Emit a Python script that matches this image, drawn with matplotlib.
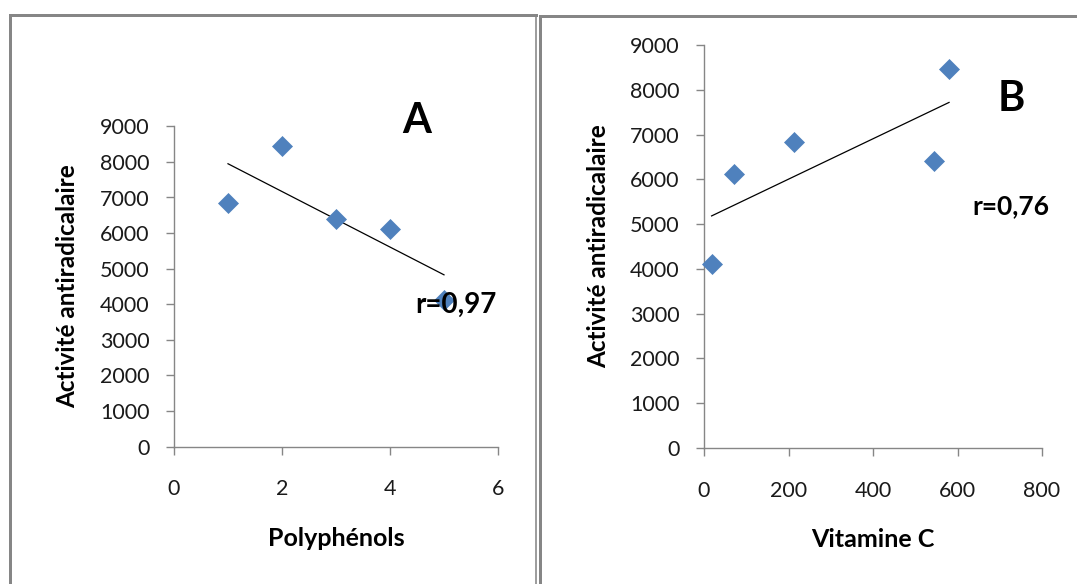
import numpy as np
import matplotlib
matplotlib.use('Agg')
import matplotlib.pyplot as plt
from matplotlib.lines import Line2D

# Values
polyphenols = [1, 2, 3, 4, 5]
activity_a = [6840, 8460, 6410, 6120, 4110]

vitamine_c = [18, 71, 212, 545, 580]
activity_b = [4110, 6120, 6840, 6410, 8460]

y_ticks = [0, 1000, 2000, 3000, 4000, 5000, 6000, 7000, 8000, 9000]
x_ticks_a = [0, 2, 4, 6]
x_ticks_b = [0, 200, 400, 600, 800]

r_a = 'r=0,97'
r_b = 'r=0,76'

W, H = 1077, 584
GREY = '#868686'
BLUE = '#4F81BD'

plt.rcParams['font.family'] = ['Lato', 'DejaVu Sans']


def fx(px):
    return px / W


def fy(py):
    return 1 - py / H


def style_axes(ax, xticks, xlim):
    ax.set_xlim(*xlim)
    ax.set_ylim(0, 9000)
    ax.set_xticks(xticks)
    ax.set_yticks(y_ticks)
    for side in ('top', 'right'):
        ax.spines[side].set_visible(False)
    for side in ('left', 'bottom'):
        ax.spines[side].set_color(GREY)
        ax.spines[side].set_linewidth(1.0)
    ax.tick_params(axis='both', colors=GREY, labelcolor='#1a1a1a',
                   labelsize=15.5, direction='out', width=1.0)
    ax.tick_params(axis='y', length=5.5, pad=12)
    ax.tick_params(axis='x', length=5.5, pad=18)


def scatter_with_trend(ax, x, y):
    x = np.asarray(x, float)
    y = np.asarray(y, float)
    slope, icpt = np.polyfit(x, y, 1)
    xs = np.array([x.min(), x.max()])
    ax.plot(xs, slope * xs + icpt, color='black', linewidth=0.9, zorder=2)
    ax.plot(x, y, linestyle='none', marker='D', markersize=10,
            color=BLUE, markeredgecolor=BLUE, markeredgewidth=0.5,
            zorder=3, clip_on=False)


fig = plt.figure(figsize=(W / 100, H / 100), dpi=100)
fig.patch.set_facecolor('white')

# Panel A
ax_a = fig.add_axes([fx(174), fy(446.7), fx(498) - fx(174), fy(126.3) - fy(446.7)])
scatter_with_trend(ax_a, polyphenols, activity_a)
style_axes(ax_a, x_ticks_a, (0, 6))
ax_a.set_ylabel('Activité antiradicalaire', fontsize=17.5, fontweight='bold', labelpad=15)
ax_a.set_xlabel('Polyphénols', fontsize=18, fontweight='bold', labelpad=20)
fig.text(fx(417), fy(121), 'A', fontsize=30, fontweight='bold', ha='center', va='center')
fig.text(fx(456), fy(305), r_a, fontsize=20, fontweight='bold', ha='center', va='center')

# Panel B
ax_b = fig.add_axes([fx(704), fy(448), fx(1042) - fx(704), fy(45) - fy(448)])
scatter_with_trend(ax_b, vitamine_c, activity_b)
style_axes(ax_b, x_ticks_b, (0, 800))
ax_b.set_ylabel('Activité antiradicalaire', fontsize=17.5, fontweight='bold', labelpad=14)
ax_b.set_xlabel('Vitamine C', fontsize=18, fontweight='bold', labelpad=20)
fig.text(fx(1011), fy(99), 'B', fontsize=30, fontweight='bold', ha='center', va='center')
fig.text(fx(1011), fy(206), r_b, fontsize=19, fontweight='bold', ha='center', va='center')

# Chart-area borders, as in the original screenshot
borders = [
    ((9.5, 9.5), (14.5, H), 3.0),
    ((9.5, 536), (14.5, 14.5), 3.0),
    ((536, 536), (14.5, H), 1.6),
    ((539.5, 539.5), (15.5, H), 3.0),
    ((539.5, W), (15.5, 15.5), 3.0),
]
for xs, ys, lw in borders:
    fig.add_artist(Line2D([fx(v) for v in xs], [fy(v) for v in ys],
                          color=GREY, linewidth=lw * 72 / 100,
                          transform=fig.transFigure))

fig.savefig('out.png', dpi=100, facecolor='white')
